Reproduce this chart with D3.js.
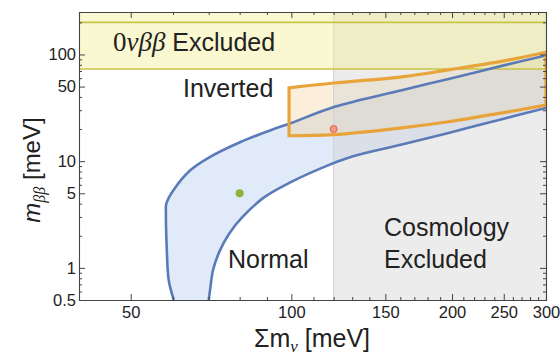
<!DOCTYPE html>
<html>
<head>
<meta charset="utf-8">
<script src="https://cdn.jsdelivr.net/npm/d3@7"></script>
<style>
  body { margin: 0; background: #fff; }
  svg text { font-family: "Liberation Sans", Arial, sans-serif; fill: #222; }
</style>
</head>
<body>
<svg id="chart" width="560" height="357"></svg>
<script>
// axis ranges (meV)
var xDomain = [40, 300];
var yDomain = [0.5, 250];

var xLabelTicks = [50, 100, 150, 200, 250, 300];
var xMinorTicks = [40, 60, 70, 80, 90, 110, 120, 130, 140, 160, 170, 180, 190, 210, 220, 230, 240, 260, 270, 280, 290];
var yLabelTicks = [0.5, 1, 5, 10, 50, 100];
var yMinorTicks = [0.6, 0.7, 0.8, 0.9, 2, 3, 4, 6, 7, 8, 9, 20, 30, 40, 60, 70, 80, 90, 200];

// normal ordering band, [sum m_nu, m_bb]
var normalUpper = [[60.2, 0.5], [58.9, 0.77], [58.4, 1.57], [58.2, 3.3], [58.3, 4.0], [60.2, 5.4], [64.8, 8.3],
                   [69.8, 10.7], [80.5, 15.2], [91.7, 19.6], [100, 22.8], [120.5, 32.3], [161, 46.3],
                   [197, 59], [250, 79], [300, 98]];
var normalLower = [[70, 0.5], [70.5, 0.65], [71.3, 0.95], [73.3, 1.42], [76.5, 2.1], [81, 3.0], [89, 4.6],
                   [100, 6.4], [115, 8.8], [130, 11.05], [161, 14.3], [197, 18.4], [250, 25.0], [300, 31.5]];

// inverted ordering box
var invertedUpper = [[99, 48.6], [120, 54], [161, 61.7], [197, 71.7], [250, 87], [300, 105]];
var invertedLower = [[99, 17.3], [120, 17.7], [161, 20.5], [197, 23.4], [250, 28.5], [300, 33.5]];

// exclusion limits
var bbLimits = [73, 200];
var cosmoLimit = 120;

var normalPoint = [80, 5];
var invertedPoint = [120, 20];

var plotL = 79, plotR = 546, plotT = 12, plotB = 300;

var svg = d3.select("#chart");

var x = d3.scaleLog().domain(xDomain).range([plotL, plotR]);
var y = d3.scaleLog().domain(yDomain).range([plotB, plotT]);

svg.append("defs").append("clipPath").attr("id", "plot")
  .append("rect").attr("x", plotL).attr("y", plotT).attr("width", plotR - plotL).attr("height", plotB - plotT);

var g = svg.append("g").attr("clip-path", "url(#plot)");

var curve = d3.line()
  .x(function(d) { return x(d[0]); })
  .y(function(d) { return y(d[1]); })
  .curve(d3.curveCatmullRom.alpha(0.5));

// closed band made of two curves
function bandPath(upper, lower) {
  var back = lower.slice().reverse();
  return curve(upper) + "L" + curve(back).slice(1) + "Z";
}

// fills
g.append("path")
  .attr("d", bandPath(normalUpper, normalLower))
  .attr("fill", "#b8cdef").attr("fill-opacity", 0.42);

g.append("path")
  .attr("d", bandPath(invertedUpper, invertedLower))
  .attr("fill", "#f3cf95").attr("fill-opacity", 0.35);

// cosmology excluded region
g.append("rect")
  .attr("x", x(cosmoLimit)).attr("y", plotT)
  .attr("width", plotR - x(cosmoLimit)).attr("height", plotB - plotT)
  .attr("fill", "#d4d4d4").attr("fill-opacity", 0.45);
g.append("line")
  .attr("x1", x(cosmoLimit)).attr("x2", x(cosmoLimit)).attr("y1", plotT).attr("y2", plotB)
  .attr("stroke", "#cfcfcf").attr("stroke-width", 1);

// 0vbb excluded region
g.append("rect")
  .attr("x", plotL).attr("y", plotT)
  .attr("width", plotR - plotL).attr("height", y(bbLimits[0]) - plotT)
  .attr("fill", "#f5ef9a").attr("fill-opacity", 0.45);
g.selectAll(".bbline").data(bbLimits).enter().append("line")
  .attr("x1", plotL).attr("x2", plotR)
  .attr("y1", function(d) { return y(d); }).attr("y2", function(d) { return y(d); })
  .attr("stroke", "#c9c34a").attr("stroke-width", 1.6);

// band outlines
[normalUpper, normalLower].forEach(function(c) {
  g.append("path").attr("d", curve(c))
    .attr("fill", "none").attr("stroke", "#5a7bb8").attr("stroke-width", 2.6);
});
g.append("path")
  .attr("d", bandPath(invertedUpper, invertedLower))
  .attr("fill", "none").attr("stroke", "#e8a43a").attr("stroke-width", 3.2).attr("stroke-linejoin", "miter");

// points
g.append("circle").attr("cx", x(normalPoint[0])).attr("cy", y(normalPoint[1])).attr("r", 4)
  .attr("fill", "#8bb43a");
g.append("circle").attr("cx", x(invertedPoint[0])).attr("cy", y(invertedPoint[1])).attr("r", 3.5)
  .attr("fill", "#f39a86").attr("stroke", "#e5604a").attr("stroke-width", 1);

// axes: bottom/left with labels, top/right ticks only
function styleAxis(sel) {
  sel.selectAll("path").attr("stroke", "#444").attr("stroke-width", 1.1);
  sel.selectAll("line").attr("stroke", "#444").attr("stroke-width", 1);
  sel.selectAll("text").attr("fill", "#222").attr("font-size", "16.5px")
    .attr("font-family", "'Liberation Sans', Arial, sans-serif");
}

var fmt = function(d) { return String(d); };

svg.append("g").attr("transform", "translate(0," + plotB + ")")
  .call(d3.axisBottom(x).tickValues(xMinorTicks).tickSize(-3).tickFormat(""))
  .call(styleAxis);
svg.append("g").attr("transform", "translate(0," + plotB + ")")
  .call(d3.axisBottom(x).tickValues(xLabelTicks).tickSize(-6).tickPadding(6).tickFormat(fmt))
  .call(styleAxis)
  .call(function(s) { s.select(".domain").remove(); });

svg.append("g").attr("transform", "translate(0," + plotT + ")")
  .call(d3.axisTop(x).tickValues(xMinorTicks).tickSize(-3).tickFormat(""))
  .call(styleAxis);
svg.append("g").attr("transform", "translate(0," + plotT + ")")
  .call(d3.axisTop(x).tickValues(xLabelTicks).tickSize(-6).tickFormat(""))
  .call(styleAxis)
  .call(function(s) { s.select(".domain").remove(); });

svg.append("g").attr("transform", "translate(" + plotL + ",0)")
  .call(d3.axisLeft(y).tickValues(yMinorTicks).tickSize(-3).tickFormat(""))
  .call(styleAxis);
svg.append("g").attr("transform", "translate(" + plotL + ",0)")
  .call(d3.axisLeft(y).tickValues(yLabelTicks).tickSize(-6).tickPadding(3).tickFormat(fmt))
  .call(styleAxis)
  .call(function(s) { s.select(".domain").remove(); });

svg.append("g").attr("transform", "translate(" + plotR + ",0)")
  .call(d3.axisRight(y).tickValues(yMinorTicks).tickSize(-3).tickFormat(""))
  .call(styleAxis);
svg.append("g").attr("transform", "translate(" + plotR + ",0)")
  .call(d3.axisRight(y).tickValues(yLabelTicks).tickSize(-6).tickFormat(""))
  .call(styleAxis)
  .call(function(s) { s.select(".domain").remove(); });

// region labels
var bb = svg.append("text").attr("x", 113).attr("y", 51).attr("font-size", "25px");
bb.append("tspan").attr("font-family", "'Liberation Serif', 'Times New Roman', serif").attr("font-size", "27px").text("0");
bb.append("tspan").attr("font-family", "'Liberation Serif', 'Times New Roman', serif").attr("font-size", "27px")
  .attr("font-style", "italic").text("νββ");
bb.append("tspan").text(" Excluded");

svg.append("text").attr("x", 183).attr("y", 97).attr("font-size", "25px").text("Inverted");
svg.append("text").attr("x", 228).attr("y", 268).attr("font-size", "25px").text("Normal");
svg.append("text").attr("x", 384).attr("y", 236).attr("font-size", "25px").text("Cosmology");
svg.append("text").attr("x", 384).attr("y", 268).attr("font-size", "25px").text("Excluded");

// axis titles
var xt = svg.append("text").attr("x", 312).attr("y", 347).attr("text-anchor", "middle").attr("font-size", "25px");
xt.append("tspan").text("Σm");
xt.append("tspan").attr("font-size", "17px").attr("font-style", "italic").attr("dy", 5)
  .attr("font-family", "'Liberation Serif', serif").text("ν");
xt.append("tspan").attr("dy", -5).text(" [meV]");

var yt = svg.append("text").attr("transform", "translate(40,170) rotate(-90)")
  .attr("text-anchor", "middle").attr("font-size", "24px");
yt.append("tspan").attr("font-style", "italic").text("m");
yt.append("tspan").attr("font-size", "16px").attr("font-style", "italic").attr("dy", 5)
  .attr("font-family", "'Liberation Serif', serif").text("ββ");
yt.append("tspan").attr("dy", -5).text(" [meV]");
</script>
</body>
</html>
